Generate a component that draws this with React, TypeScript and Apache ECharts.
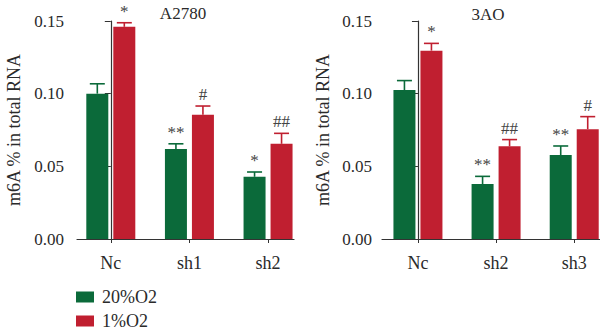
import React, { useEffect, useRef } from "react";
import * as echarts from "echarts";

// Panel A: A2780
const groupsA = ["Nc", "sh1", "sh2"];
const normA = [0.1, 0.062, 0.0428];
const normErrA = [0.0068, 0.0035, 0.0033];
const hypoA = [0.146, 0.0855, 0.0655];
const hypoErrA = [0.0028, 0.006, 0.0072];
const sigNormA = ["", "**", "*"];
const sigHypoA = ["*", "#", "##"];

// Panel B: 3AO
const groupsB = ["Nc", "sh2", "sh3"];
const normB = [0.1025, 0.0378, 0.0578];
const normErrB = [0.0065, 0.0053, 0.0062];
const hypoB = [0.1296, 0.0638, 0.0756];
const hypoErrB = [0.005, 0.0046, 0.0086];
const sigNormB = ["", "**", "**"];
const sigHypoB = ["*", "##", "#"];

const yTicks = [0, 0.05, 0.1, 0.15];
const seriesNames = ["20%O2", "1%O2"];

const GREEN = "#0b6a3a";
const RED = "#c01f30";
const FONT = "Liberation Serif";
const TEXT = "#2a2a2a";
const AXIS = "#333333";

const BAR_W = 22;
const BAR_GAP = 5;

export default function App() {
  const ref = useRef<HTMLDivElement>(null);
  useEffect(() => {
    if (!ref.current) return;
    const chart = echarts.init(ref.current, null, { renderer: "svg" });

    const grids = [
      { left: 77, top: 21, width: 217, height: 218 },
      { left: 382, top: 21, width: 218, height: 218 },
    ];
    const xRanges = [
      { min: -0.43, max: 2.33 },
      { min: -0.46, max: 2.33 },
    ];
    const cats = [groupsA, groupsB];
    const nameGaps = [54, 50];
    const labelMargins = [13, 10];

    const xAxis = cats.map((c, i) => ({
      type: "value",
      gridIndex: i,
      min: xRanges[i].min,
      max: xRanges[i].max,
      splitLine: { show: false },
      axisLine: { show: true, lineStyle: { color: AXIS, width: 1.2 } },
      axisTick: {
        show: true,
        length: 4,
        customValues: [0, 1, 2],
        lineStyle: { color: AXIS },
      },
      axisLabel: {
        customValues: [0, 1, 2],
        formatter: (v: number) => c[Math.round(v)] ?? "",
        fontFamily: FONT,
        fontSize: 18,
        color: TEXT,
        margin: 15,
      },
    }));

    const yAxis = [0, 1].map((i) => ({
      type: "value",
      gridIndex: i,
      min: yTicks[0],
      max: yTicks[yTicks.length - 1],
      interval: 0.05,
      name: "m6A % in total RNA",
      nameLocation: "middle",
      nameGap: nameGaps[i],
      nameTextStyle: { fontFamily: FONT, fontSize: 18, color: TEXT },
      splitLine: { show: false },
      axisLine: { show: true, lineStyle: { color: AXIS, width: 1.2 } },
      axisTick: { show: true, length: 6, lineStyle: { color: AXIS } },
      axisLabel: {
        formatter: (v: number) => v.toFixed(2),
        fontFamily: FONT,
        fontSize: 17,
        color: TEXT,
        margin: labelMargins[i],
      },
    }));

    const panels = [
      { norm: normA, normErr: normErrA, hypo: hypoA, hypoErr: hypoErrA, sN: sigNormA, sH: sigHypoA },
      { norm: normB, normErr: normErrB, hypo: hypoB, hypoErr: hypoErrB, sN: sigNormB, sH: sigHypoB },
    ];

    const series: any[] = [];
    panels.forEach((p, i) => {
      series.push({
        name: seriesNames[0],
        type: "bar",
        xAxisIndex: i,
        yAxisIndex: i,
        barWidth: BAR_W,
        barGap: `${(BAR_GAP / BAR_W) * 100}%`,
        itemStyle: { color: GREEN },
        data: p.norm.map((v, k) => [k, v]),
      });
      series.push({
        name: seriesNames[1],
        type: "bar",
        xAxisIndex: i,
        yAxisIndex: i,
        barWidth: BAR_W,
        barGap: `${(BAR_GAP / BAR_W) * 100}%`,
        itemStyle: { color: RED },
        data: p.hypo.map((v, k) => [k, v]),
      });
      const mkErr = (vals: number[], errs: number[], sigs: string[], color: string, dir: number) => ({
        type: "custom",
        xAxisIndex: i,
        yAxisIndex: i,
        silent: true,
        z: 5,
        data: vals.map((v, k) => [k, v, errs[k]]),
        renderItem: (params: any, api: any) => {
          const x = api.value(0);
          const y = api.value(1);
          const e = api.value(2);
          const sig = sigs[params.dataIndex] || "";
          const off = dir * (BAR_W / 2 + BAR_GAP / 2);
          const pb = api.coord([x, y]);
          const pt = api.coord([x, y + e]);
          const cx = pb[0] + off;
          const half = 7.5;
          const children: any[] = [
            {
              type: "line",
              shape: { x1: cx, y1: pb[1], x2: cx, y2: pt[1] },
              style: { stroke: color, lineWidth: 1.6 },
            },
            {
              type: "line",
              shape: { x1: cx - half, y1: pt[1], x2: cx + half, y2: pt[1] },
              style: { stroke: color, lineWidth: 1.6 },
            },
          ];
          if (sig) {
            children.push({
              type: "text",
              x: cx,
              y: pt[1] - 3,
              style: {
                text: sig,
                fontFamily: FONT,
                fontSize: 17,
                fill: "#444",
                align: "center",
                verticalAlign: "bottom",
              },
            });
          }
          return { type: "group", children };
        },
      });
      series.push(mkErr(p.norm, p.normErr, p.sN, GREEN, -1));
      series.push(mkErr(p.hypo, p.hypoErr, p.sH, RED, 1));
    });

    chart.setOption({
      animation: false,
      backgroundColor: "#ffffff",
      grid: grids,
      xAxis,
      yAxis,
      legend: {
        data: seriesNames,
        orient: "vertical",
        left: 76,
        top: 288,
        height: 43,
        padding: 0,
        icon: "rect",
        itemWidth: 18,
        itemHeight: 11,
        itemGap: 6,
        textStyle: { fontFamily: FONT, fontSize: 18, color: TEXT, lineHeight: 18, padding: [0, 0, 0, 3] },
      },
      graphic: [
        {
          type: "text",
          x: 183,
          y: 13,
          style: {
            text: "A2780",
            fontFamily: FONT,
            fontSize: 17,
            fill: TEXT,
            align: "center",
            verticalAlign: "middle",
          },
        },
        {
          type: "text",
          x: 488,
          y: 14,
          style: {
            text: "3AO",
            fontFamily: FONT,
            fontSize: 17,
            fill: TEXT,
            align: "center",
            verticalAlign: "middle",
          },
        },
      ],
      series,
    });

    return () => chart.dispose();
  }, []);

  return (
    <div
      ref={ref}
      style={{ width: 600, height: 331, position: "absolute", left: 0, top: 0 }}
    />
  );
}
